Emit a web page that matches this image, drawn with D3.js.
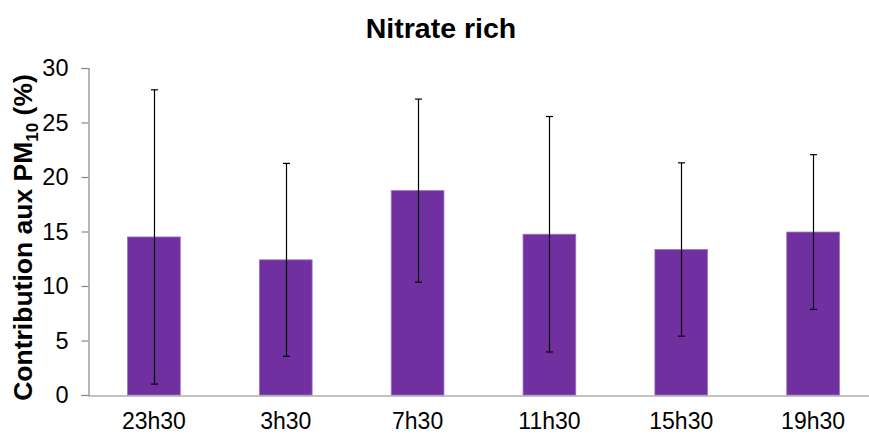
<!DOCTYPE html>
<html>
<head>
<meta charset="utf-8">
<script src="https://cdn.jsdelivr.net/npm/d3@7"></script>
<style>
  html, body { margin: 0; padding: 0; background: #fff; }
  svg { display: block; font-family: Arial, "Liberation Sans", sans-serif; }
</style>
</head>
<body>
<svg id="chart" width="869" height="434"></svg>
<script>
const categories = ["23h30", "3h30", "7h30", "11h30", "15h30", "19h30"];
const means = [14.5, 12.4, 18.75, 14.75, 13.35, 14.95];
const errors = [13.5, 8.85, 8.4, 10.8, 7.95, 7.1];
const yTicks = [0, 5, 10, 15, 20, 25, 30];
const title = "Nitrate rich";

const svg = d3.select("#chart");
const plotLeft = 88, plotRight = 879, plotTop = 68, plotBottom = 395;

const x = d3.scaleBand().domain(categories).range([plotLeft, plotRight])
  .paddingInner(0.6).paddingOuter(0.3);
const y = d3.scaleLinear().domain([0, 30]).range([plotBottom, plotTop]);

// bars
svg.append("g").selectAll("rect").data(categories).join("rect")
  .attr("x", d => x(d))
  .attr("y", (d, i) => y(means[i]))
  .attr("width", x.bandwidth())
  .attr("height", (d, i) => y(0) - y(means[i]))
  .attr("fill", "#7030A0")
  .attr("stroke", "#9c74c4")
  .attr("stroke-width", 0.8);

// y axis
const yAxis = d3.axisLeft(y).tickValues(yTicks).tickSize(7).tickPadding(13).tickFormat(d3.format("d"));
const gy = svg.append("g").attr("transform", `translate(${plotLeft + 0.5},0)`).call(yAxis);
gy.select(".domain").attr("stroke", "#868686").attr("stroke-width", 1.2);
gy.selectAll(".tick line").attr("stroke", "#868686").attr("stroke-width", 1.2);
gy.selectAll(".tick text").attr("fill", "#000").style("font-size", "23.5px")
  .style("font-family", "Arial, 'Liberation Sans', sans-serif");

// x axis
const xAxis = d3.axisBottom(x).tickSize(0).tickPadding(17.5);
const gx = svg.append("g").attr("transform", `translate(0,${plotBottom + 0.5})`).call(xAxis);
gx.select(".domain").attr("stroke", "#868686").attr("stroke-width", 1.2);
gx.selectAll(".tick text").attr("fill", "#000").style("font-size", "23px")
  .style("font-family", "Arial, 'Liberation Sans', sans-serif");

// error bars
const eg = svg.append("g").attr("stroke", "#000").attr("stroke-width", 1.2);
categories.forEach((c, i) => {
  const cx = Math.round(x(c) + x.bandwidth() / 2) + 0.5;
  const hi = y(means[i] + errors[i]);
  const lo = y(means[i] - errors[i]);
  eg.append("line").attr("x1", cx).attr("x2", cx).attr("y1", hi).attr("y2", lo);
  eg.append("line").attr("x1", cx - 3.5).attr("x2", cx + 3.5).attr("y1", hi).attr("y2", hi);
  eg.append("line").attr("x1", cx - 3.5).attr("x2", cx + 3.5).attr("y1", lo).attr("y2", lo);
});

// title
svg.append("text").attr("x", 441).attr("y", 38).attr("text-anchor", "middle")
  .style("font-size", "28.5px").style("font-weight", "bold").text(title);

// y axis title
const yt = svg.append("text")
  .attr("transform", `translate(32,${(plotTop + plotBottom) / 2 + 6}) rotate(-90)`)
  .attr("text-anchor", "middle")
  .style("font-size", "26.5px").style("font-weight", "bold");
yt.append("tspan").text("Contribution aux PM");
yt.append("tspan").attr("dy", 6).style("font-size", "17px").text("10");
yt.append("tspan").attr("dy", -6).text(" (%)");
</script>
</body>
</html>
